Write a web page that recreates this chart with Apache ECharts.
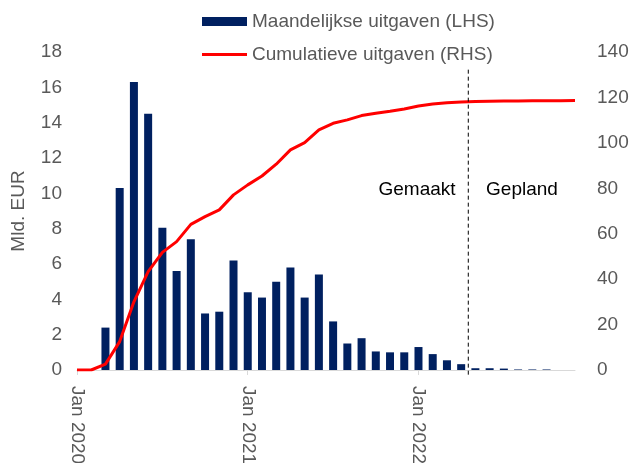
<!DOCTYPE html>
<html>
<head>
<meta charset="utf-8">
<script src="https://cdn.jsdelivr.net/npm/echarts@6/dist/echarts.min.js"></script>
<style>
  html, body { margin: 0; padding: 0; background: #fff; }
  #chart { width: 629px; height: 463px; }
</style>
</head>
<body>
<div id="chart"></div>
<script>
// maanden jan 2020 t/m dec 2022
var maanden = ['Jan', 'Feb', 'Mrt', 'Apr', 'Mei', 'Jun', 'Jul', 'Aug', 'Sep', 'Okt', 'Nov', 'Dec'];
var jaren = ['2020', '2021', '2022'];
var categories = [];
jaren.forEach(function (j) {
  maanden.forEach(function (m) { categories.push(m + ' ' + j); });
});

// maandelijkse uitgaven (LHS), mld EUR
var maandelijks = [
  0, 0, 2.4, 10.3, 16.3, 14.5, 8.05, 5.6, 7.4, 3.2, 3.3, 6.2,
  4.4, 4.1, 5.0, 5.8, 4.1, 5.4, 2.75, 1.5, 1.8, 1.05, 1.0, 1.0,
  1.3, 0.9, 0.55, 0.33, 0.1, 0.1, 0.08, 0.03, 0.03, 0.03, 0, 0
];

// cumulatieve uitgaven (RHS)
var cumulatief = [
  0, 0, 2.6, 12.5, 30, 43.3, 51.8, 56.5, 64.1, 67.5, 70.5, 77.1,
  81.5, 85.4, 90.6, 96.9, 100.1, 105.7, 108.6, 110.1, 112.0, 113.0, 113.9, 114.9,
  116.2, 117.1, 117.7, 118.0, 118.2, 118.3, 118.4, 118.45, 118.5, 118.5, 118.55, 118.6
];

// scheiding gemaakt / gepland (tussen apr en mei 2022)
var scheiding = [[27.5, 17], [27.5, -0.4]];

var grijs = '#595959';
var font = 'Liberation Sans, Arial, sans-serif';

var chart = echarts.init(document.getElementById('chart'), null, { renderer: 'canvas' });

var option = {
  animation: false,
  textStyle: { fontFamily: font },
  grid: { left: 77, right: 54, top: 52, bottom: 93, containLabel: false, outerBoundsMode: 'none' },
  legend: [
    {
      data: ['Maandelijkse uitgaven (LHS)'],
      left: 202, top: 12, padding: 0,
      itemWidth: 45, itemHeight: 9, icon: 'rect',
      textStyle: { color: grijs, fontSize: 19, fontFamily: font }
    },
    {
      data: ['Cumulatieve uitgaven (RHS)'],
      left: 202, top: 45, padding: 0,
      itemWidth: 45, itemHeight: 3, icon: 'rect',
      textStyle: { color: grijs, fontSize: 19, fontFamily: font }
    }
  ],
  xAxis: [
    {
      type: 'category',
      data: categories,
      boundaryGap: false,
      axisLine: { lineStyle: { color: '#d9d9d9', width: 1 } },
      axisTick: { show: true, interval: 11, length: 5, lineStyle: { color: '#d9d9d9' } },
      axisLabel: {
        interval: 11, rotate: -90, margin: 16,
        color: grijs, fontSize: 19, fontFamily: font
      },
      splitLine: { show: false }
    },
    {
      type: 'value', min: 0, max: 35, show: false
    }
  ],
  yAxis: [
    {
      type: 'value', min: 0, max: 18, interval: 2,
      name: 'Mld. EUR', nameLocation: 'middle', nameRotate: 90, nameGap: 49,
      nameTextStyle: { color: grijs, fontSize: 19, fontFamily: font },
      axisLine: { show: false }, axisTick: { show: false },
      splitLine: { show: false },
      axisLabel: { color: grijs, fontSize: 19, margin: 15, fontFamily: font }
    },
    {
      type: 'value', min: 0, max: 140, interval: 20,
      axisLine: { show: false }, axisTick: { show: false },
      splitLine: { show: false },
      axisLabel: { color: grijs, fontSize: 19, margin: 22, fontFamily: font }
    }
  ],
  series: [
    {
      name: 'Maandelijkse uitgaven (LHS)',
      type: 'bar',
      data: maandelijks,
      barWidth: 8,
      itemStyle: { color: '#002060' }
    },
    {
      name: 'Cumulatieve uitgaven (RHS)',
      type: 'line',
      yAxisIndex: 1,
      data: cumulatief,
      symbol: 'none',
      lineStyle: { color: '#ff0000', width: 3 },
      itemStyle: { color: '#ff0000' }
    },
    {
      name: 'scheiding',
      type: 'line',
      xAxisIndex: 1,
      yAxisIndex: 0,
      data: scheiding,
      symbol: 'none',
      clip: false,
      silent: true,
      lineStyle: { color: '#000', width: 1, type: [4, 3] }
    }
  ],
  graphic: [
    { type: 'text', x: 417, y: 190, style: { text: 'Gemaakt', fill: '#000', font: '19px ' + font, align: 'center', verticalAlign: 'middle' } },
    { type: 'text', x: 522, y: 190, style: { text: 'Gepland', fill: '#000', font: '19px ' + font, align: 'center', verticalAlign: 'middle' } }
  ]
};

chart.setOption(option);
</script>
</body>
</html>
